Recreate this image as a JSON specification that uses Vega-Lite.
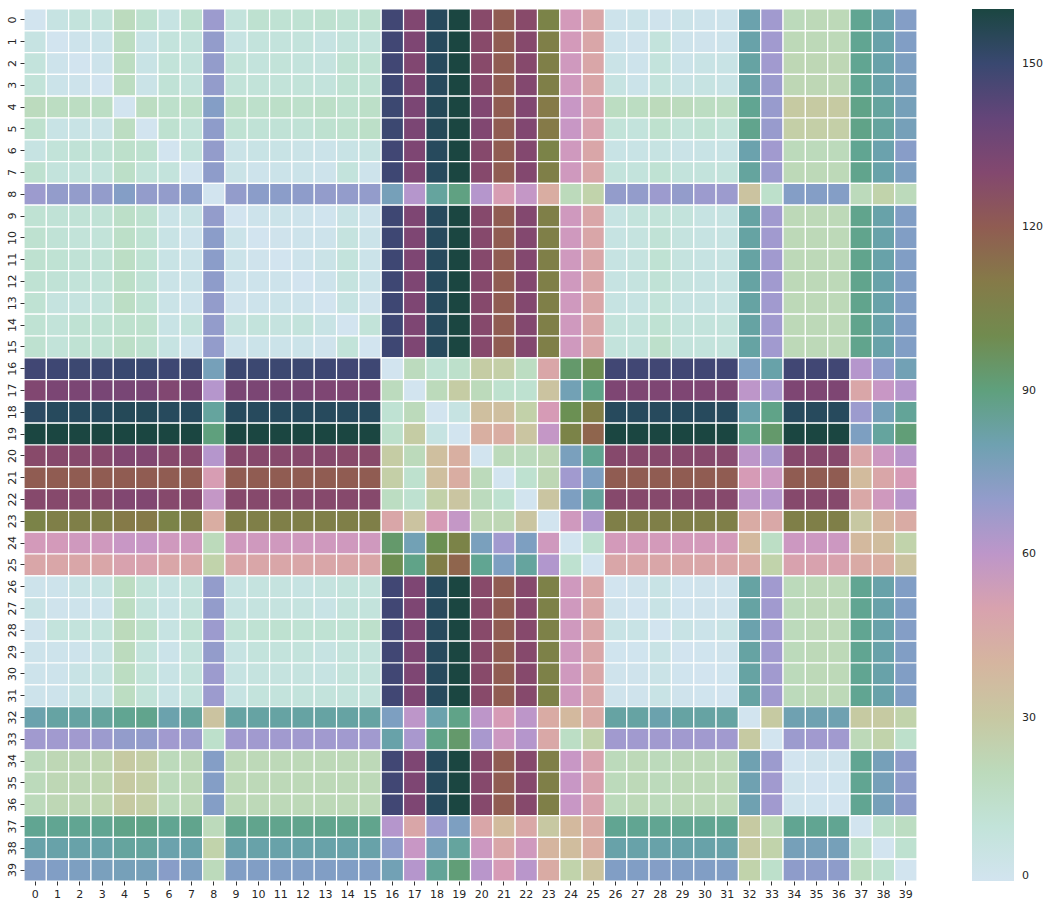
{
"$schema": "https://vega.github.io/schema/vega-lite/v6.json",
"width": 893,
"height": 872,
"padding": {"left": 5, "top": 8, "right": 5, "bottom": 5},
"background": "white",
"config": {"view": {"stroke": null}, "font": "DejaVu Sans"},
"data": {"values": [
{"r":0,"c":0,"v":0},{"r":0,"c":1,"v":7},{"r":0,"c":2,"v":9},{"r":0,"c":3,"v":9},{"r":0,"c":4,"v":19},{"r":0,"c":5,"v":13},{"r":0,"c":6,"v":7},{"r":0,"c":7,"v":13},{"r":0,"c":8,"v":68},{"r":0,"c":9,"v":9},{"r":0,"c":10,"v":13},{"r":0,"c":11,"v":12},{"r":0,"c":12,"v":12},{"r":0,"c":13,"v":13},{"r":0,"c":14,"v":12},{"r":0,"c":15,"v":13},{"r":0,"c":16,"v":147},{"r":0,"c":17,"v":131},{"r":0,"c":18,"v":154},{"r":0,"c":19,"v":160},{"r":0,"c":20,"v":128},{"r":0,"c":21,"v":120},{"r":0,"c":22,"v":128},{"r":0,"c":23,"v":105},{"r":0,"c":24,"v":54},{"r":0,"c":25,"v":48},{"r":0,"c":26,"v":3},{"r":0,"c":27,"v":4},{"r":0,"c":28,"v":2},{"r":0,"c":29,"v":4},{"r":0,"c":30,"v":3},{"r":0,"c":31,"v":3},{"r":0,"c":32,"v":81},{"r":0,"c":33,"v":67},{"r":0,"c":34,"v":20},{"r":0,"c":35,"v":21},{"r":0,"c":36,"v":21},{"r":0,"c":37,"v":86},{"r":0,"c":38,"v":82},{"r":0,"c":39,"v":74},
{"r":1,"c":0,"v":7},{"r":1,"c":1,"v":0},{"r":1,"c":2,"v":3},{"r":1,"c":3,"v":4},{"r":1,"c":4,"v":18},{"r":1,"c":5,"v":6},{"r":1,"c":6,"v":9},{"r":1,"c":7,"v":9},{"r":1,"c":8,"v":70},{"r":1,"c":9,"v":7},{"r":1,"c":10,"v":9},{"r":1,"c":11,"v":9},{"r":1,"c":12,"v":9},{"r":1,"c":13,"v":7},{"r":1,"c":14,"v":9},{"r":1,"c":15,"v":9},{"r":1,"c":16,"v":147},{"r":1,"c":17,"v":132},{"r":1,"c":18,"v":154},{"r":1,"c":19,"v":160},{"r":1,"c":20,"v":128},{"r":1,"c":21,"v":120},{"r":1,"c":22,"v":129},{"r":1,"c":23,"v":107},{"r":1,"c":24,"v":54},{"r":1,"c":25,"v":48},{"r":1,"c":26,"v":3},{"r":1,"c":27,"v":2},{"r":1,"c":28,"v":9},{"r":1,"c":29,"v":3},{"r":1,"c":30,"v":2},{"r":1,"c":31,"v":3},{"r":1,"c":32,"v":82},{"r":1,"c":33,"v":67},{"r":1,"c":34,"v":21},{"r":1,"c":35,"v":21},{"r":1,"c":36,"v":21},{"r":1,"c":37,"v":86},{"r":1,"c":38,"v":82},{"r":1,"c":39,"v":75},
{"r":2,"c":0,"v":9},{"r":2,"c":1,"v":3},{"r":2,"c":2,"v":0},{"r":2,"c":3,"v":3},{"r":2,"c":4,"v":18},{"r":2,"c":5,"v":6},{"r":2,"c":6,"v":10},{"r":2,"c":7,"v":9},{"r":2,"c":8,"v":70},{"r":2,"c":9,"v":10},{"r":2,"c":10,"v":9},{"r":2,"c":11,"v":10},{"r":2,"c":12,"v":9},{"r":2,"c":13,"v":8},{"r":2,"c":14,"v":12},{"r":2,"c":15,"v":12},{"r":2,"c":16,"v":147},{"r":2,"c":17,"v":131},{"r":2,"c":18,"v":154},{"r":2,"c":19,"v":160},{"r":2,"c":20,"v":128},{"r":2,"c":21,"v":120},{"r":2,"c":22,"v":129},{"r":2,"c":23,"v":107},{"r":2,"c":24,"v":55},{"r":2,"c":25,"v":48},{"r":2,"c":26,"v":5},{"r":2,"c":27,"v":3},{"r":2,"c":28,"v":9},{"r":2,"c":29,"v":4},{"r":2,"c":30,"v":6},{"r":2,"c":31,"v":6},{"r":2,"c":32,"v":83},{"r":2,"c":33,"v":67},{"r":2,"c":34,"v":22},{"r":2,"c":35,"v":22},{"r":2,"c":36,"v":22},{"r":2,"c":37,"v":86},{"r":2,"c":38,"v":82},{"r":2,"c":39,"v":76},
{"r":3,"c":0,"v":10},{"r":3,"c":1,"v":4},{"r":3,"c":2,"v":3},{"r":3,"c":3,"v":0},{"r":3,"c":4,"v":18},{"r":3,"c":5,"v":5},{"r":3,"c":6,"v":11},{"r":3,"c":7,"v":9},{"r":3,"c":8,"v":70},{"r":3,"c":9,"v":10},{"r":3,"c":10,"v":10},{"r":3,"c":11,"v":10},{"r":3,"c":12,"v":10},{"r":3,"c":13,"v":9},{"r":3,"c":14,"v":12},{"r":3,"c":15,"v":12},{"r":3,"c":16,"v":148},{"r":3,"c":17,"v":132},{"r":3,"c":18,"v":154},{"r":3,"c":19,"v":160},{"r":3,"c":20,"v":129},{"r":3,"c":21,"v":120},{"r":3,"c":22,"v":130},{"r":3,"c":23,"v":107},{"r":3,"c":24,"v":55},{"r":3,"c":25,"v":48},{"r":3,"c":26,"v":7},{"r":3,"c":27,"v":4},{"r":3,"c":28,"v":9},{"r":3,"c":29,"v":6},{"r":3,"c":30,"v":7},{"r":3,"c":31,"v":6},{"r":3,"c":32,"v":83},{"r":3,"c":33,"v":68},{"r":3,"c":34,"v":22},{"r":3,"c":35,"v":22},{"r":3,"c":36,"v":22},{"r":3,"c":37,"v":86},{"r":3,"c":38,"v":82},{"r":3,"c":39,"v":77},
{"r":4,"c":0,"v":19},{"r":4,"c":1,"v":18},{"r":4,"c":2,"v":18},{"r":4,"c":3,"v":17},{"r":4,"c":4,"v":0},{"r":4,"c":5,"v":18},{"r":4,"c":6,"v":15},{"r":4,"c":7,"v":16},{"r":4,"c":8,"v":74},{"r":4,"c":9,"v":16},{"r":4,"c":10,"v":15},{"r":4,"c":11,"v":16},{"r":4,"c":12,"v":15},{"r":4,"c":13,"v":16},{"r":4,"c":14,"v":14},{"r":4,"c":15,"v":16},{"r":4,"c":16,"v":149},{"r":4,"c":17,"v":133},{"r":4,"c":18,"v":155},{"r":4,"c":19,"v":160},{"r":4,"c":20,"v":131},{"r":4,"c":21,"v":120},{"r":4,"c":22,"v":131},{"r":4,"c":23,"v":110},{"r":4,"c":24,"v":57},{"r":4,"c":25,"v":50},{"r":4,"c":26,"v":18},{"r":4,"c":27,"v":18},{"r":4,"c":28,"v":20},{"r":4,"c":29,"v":19},{"r":4,"c":30,"v":18},{"r":4,"c":31,"v":18},{"r":4,"c":32,"v":86},{"r":4,"c":33,"v":69},{"r":4,"c":34,"v":29},{"r":4,"c":35,"v":29},{"r":4,"c":36,"v":29},{"r":4,"c":37,"v":88},{"r":4,"c":38,"v":84},{"r":4,"c":39,"v":78},
{"r":5,"c":0,"v":14},{"r":5,"c":1,"v":6},{"r":5,"c":2,"v":6},{"r":5,"c":3,"v":5},{"r":5,"c":4,"v":18},{"r":5,"c":5,"v":0},{"r":5,"c":6,"v":13},{"r":5,"c":7,"v":10},{"r":5,"c":8,"v":71},{"r":5,"c":9,"v":12},{"r":5,"c":10,"v":11},{"r":5,"c":11,"v":11},{"r":5,"c":12,"v":11},{"r":5,"c":13,"v":13},{"r":5,"c":14,"v":14},{"r":5,"c":15,"v":16},{"r":5,"c":16,"v":149},{"r":5,"c":17,"v":133},{"r":5,"c":18,"v":155},{"r":5,"c":19,"v":160},{"r":5,"c":20,"v":131},{"r":5,"c":21,"v":120},{"r":5,"c":22,"v":131},{"r":5,"c":23,"v":110},{"r":5,"c":24,"v":57},{"r":5,"c":25,"v":50},{"r":5,"c":26,"v":10},{"r":5,"c":27,"v":9},{"r":5,"c":28,"v":14},{"r":5,"c":29,"v":10},{"r":5,"c":30,"v":12},{"r":5,"c":31,"v":10},{"r":5,"c":32,"v":87},{"r":5,"c":33,"v":69},{"r":5,"c":34,"v":27},{"r":5,"c":35,"v":27},{"r":5,"c":36,"v":27},{"r":5,"c":37,"v":88},{"r":5,"c":38,"v":84},{"r":5,"c":39,"v":78},
{"r":6,"c":0,"v":7},{"r":6,"c":1,"v":10},{"r":6,"c":2,"v":11},{"r":6,"c":3,"v":11},{"r":6,"c":4,"v":15},{"r":6,"c":5,"v":13},{"r":6,"c":6,"v":0},{"r":6,"c":7,"v":9},{"r":6,"c":8,"v":70},{"r":6,"c":9,"v":5},{"r":6,"c":10,"v":6},{"r":6,"c":11,"v":6},{"r":6,"c":12,"v":5},{"r":6,"c":13,"v":4},{"r":6,"c":14,"v":6},{"r":6,"c":15,"v":7},{"r":6,"c":16,"v":147},{"r":6,"c":17,"v":132},{"r":6,"c":18,"v":154},{"r":6,"c":19,"v":160},{"r":6,"c":20,"v":129},{"r":6,"c":21,"v":120},{"r":6,"c":22,"v":130},{"r":6,"c":23,"v":105},{"r":6,"c":24,"v":55},{"r":6,"c":25,"v":48},{"r":6,"c":26,"v":6},{"r":6,"c":27,"v":6},{"r":6,"c":28,"v":7},{"r":6,"c":29,"v":5},{"r":6,"c":30,"v":6},{"r":6,"c":31,"v":6},{"r":6,"c":32,"v":81},{"r":6,"c":33,"v":67},{"r":6,"c":34,"v":20},{"r":6,"c":35,"v":20},{"r":6,"c":36,"v":20},{"r":6,"c":37,"v":86},{"r":6,"c":38,"v":81},{"r":6,"c":39,"v":73},
{"r":7,"c":0,"v":13},{"r":7,"c":1,"v":9},{"r":7,"c":2,"v":9},{"r":7,"c":3,"v":9},{"r":7,"c":4,"v":16},{"r":7,"c":5,"v":10},{"r":7,"c":6,"v":9},{"r":7,"c":7,"v":0},{"r":7,"c":8,"v":71},{"r":7,"c":9,"v":5},{"r":7,"c":10,"v":3},{"r":7,"c":11,"v":4},{"r":7,"c":12,"v":4},{"r":7,"c":13,"v":3},{"r":7,"c":14,"v":9},{"r":7,"c":15,"v":3},{"r":7,"c":16,"v":148},{"r":7,"c":17,"v":132},{"r":7,"c":18,"v":154},{"r":7,"c":19,"v":160},{"r":7,"c":20,"v":129},{"r":7,"c":21,"v":120},{"r":7,"c":22,"v":130},{"r":7,"c":23,"v":107},{"r":7,"c":24,"v":55},{"r":7,"c":25,"v":48},{"r":7,"c":26,"v":9},{"r":7,"c":27,"v":9},{"r":7,"c":28,"v":12},{"r":7,"c":29,"v":9},{"r":7,"c":30,"v":9},{"r":7,"c":31,"v":9},{"r":7,"c":32,"v":84},{"r":7,"c":33,"v":68},{"r":7,"c":34,"v":21},{"r":7,"c":35,"v":21},{"r":7,"c":36,"v":21},{"r":7,"c":37,"v":87},{"r":7,"c":38,"v":82},{"r":7,"c":39,"v":76},
{"r":8,"c":0,"v":68},{"r":8,"c":1,"v":70},{"r":8,"c":2,"v":70},{"r":8,"c":3,"v":70},{"r":8,"c":4,"v":74},{"r":8,"c":5,"v":70},{"r":8,"c":6,"v":70},{"r":8,"c":7,"v":72},{"r":8,"c":8,"v":0},{"r":8,"c":9,"v":70},{"r":8,"c":10,"v":72},{"r":8,"c":11,"v":72},{"r":8,"c":12,"v":71},{"r":8,"c":13,"v":70},{"r":8,"c":14,"v":70},{"r":8,"c":15,"v":70},{"r":8,"c":16,"v":78},{"r":8,"c":17,"v":62},{"r":8,"c":18,"v":84},{"r":8,"c":19,"v":89},{"r":8,"c":20,"v":62},{"r":8,"c":21,"v":52},{"r":8,"c":22,"v":58},{"r":8,"c":23,"v":44},{"r":8,"c":24,"v":20},{"r":8,"c":25,"v":25},{"r":8,"c":26,"v":70},{"r":8,"c":27,"v":70},{"r":8,"c":28,"v":68},{"r":8,"c":29,"v":70},{"r":8,"c":30,"v":68},{"r":8,"c":31,"v":68},{"r":8,"c":32,"v":33},{"r":8,"c":33,"v":15},{"r":8,"c":34,"v":74},{"r":8,"c":35,"v":74},{"r":8,"c":36,"v":74},{"r":8,"c":37,"v":20},{"r":8,"c":38,"v":25},{"r":8,"c":39,"v":20},
{"r":9,"c":0,"v":12},{"r":9,"c":1,"v":11},{"r":9,"c":2,"v":11},{"r":9,"c":3,"v":11},{"r":9,"c":4,"v":16},{"r":9,"c":5,"v":13},{"r":9,"c":6,"v":5},{"r":9,"c":7,"v":6},{"r":9,"c":8,"v":70},{"r":9,"c":9,"v":0},{"r":9,"c":10,"v":3},{"r":9,"c":11,"v":4},{"r":9,"c":12,"v":3},{"r":9,"c":13,"v":1},{"r":9,"c":14,"v":6},{"r":9,"c":15,"v":3},{"r":9,"c":16,"v":148},{"r":9,"c":17,"v":132},{"r":9,"c":18,"v":154},{"r":9,"c":19,"v":160},{"r":9,"c":20,"v":129},{"r":9,"c":21,"v":120},{"r":9,"c":22,"v":130},{"r":9,"c":23,"v":107},{"r":9,"c":24,"v":55},{"r":9,"c":25,"v":48},{"r":9,"c":26,"v":7},{"r":9,"c":27,"v":9},{"r":9,"c":28,"v":10},{"r":9,"c":29,"v":9},{"r":9,"c":30,"v":7},{"r":9,"c":31,"v":7},{"r":9,"c":32,"v":83},{"r":9,"c":33,"v":67},{"r":9,"c":34,"v":21},{"r":9,"c":35,"v":21},{"r":9,"c":36,"v":21},{"r":9,"c":37,"v":87},{"r":9,"c":38,"v":82},{"r":9,"c":39,"v":75},
{"r":10,"c":0,"v":13},{"r":10,"c":1,"v":11},{"r":10,"c":2,"v":10},{"r":10,"c":3,"v":10},{"r":10,"c":4,"v":16},{"r":10,"c":5,"v":12},{"r":10,"c":6,"v":6},{"r":10,"c":7,"v":3},{"r":10,"c":8,"v":72},{"r":10,"c":9,"v":4},{"r":10,"c":10,"v":0},{"r":10,"c":11,"v":2},{"r":10,"c":12,"v":3},{"r":10,"c":13,"v":3},{"r":10,"c":14,"v":8},{"r":10,"c":15,"v":4},{"r":10,"c":16,"v":148},{"r":10,"c":17,"v":132},{"r":10,"c":18,"v":154},{"r":10,"c":19,"v":160},{"r":10,"c":20,"v":129},{"r":10,"c":21,"v":120},{"r":10,"c":22,"v":130},{"r":10,"c":23,"v":107},{"r":10,"c":24,"v":55},{"r":10,"c":25,"v":48},{"r":10,"c":26,"v":7},{"r":10,"c":27,"v":8},{"r":10,"c":28,"v":11},{"r":10,"c":29,"v":8},{"r":10,"c":30,"v":7},{"r":10,"c":31,"v":7},{"r":10,"c":32,"v":83},{"r":10,"c":33,"v":67},{"r":10,"c":34,"v":21},{"r":10,"c":35,"v":21},{"r":10,"c":36,"v":21},{"r":10,"c":37,"v":87},{"r":10,"c":38,"v":82},{"r":10,"c":39,"v":75},
{"r":11,"c":0,"v":13},{"r":11,"c":1,"v":12},{"r":11,"c":2,"v":11},{"r":11,"c":3,"v":11},{"r":11,"c":4,"v":17},{"r":11,"c":5,"v":12},{"r":11,"c":6,"v":6},{"r":11,"c":7,"v":4},{"r":11,"c":8,"v":72},{"r":11,"c":9,"v":4},{"r":11,"c":10,"v":2},{"r":11,"c":11,"v":0},{"r":11,"c":12,"v":3},{"r":11,"c":13,"v":5},{"r":11,"c":14,"v":9},{"r":11,"c":15,"v":4},{"r":11,"c":16,"v":148},{"r":11,"c":17,"v":132},{"r":11,"c":18,"v":154},{"r":11,"c":19,"v":160},{"r":11,"c":20,"v":129},{"r":11,"c":21,"v":120},{"r":11,"c":22,"v":130},{"r":11,"c":23,"v":107},{"r":11,"c":24,"v":55},{"r":11,"c":25,"v":48},{"r":11,"c":26,"v":7},{"r":11,"c":27,"v":8},{"r":11,"c":28,"v":12},{"r":11,"c":29,"v":8},{"r":11,"c":30,"v":7},{"r":11,"c":31,"v":7},{"r":11,"c":32,"v":83},{"r":11,"c":33,"v":67},{"r":11,"c":34,"v":21},{"r":11,"c":35,"v":21},{"r":11,"c":36,"v":21},{"r":11,"c":37,"v":87},{"r":11,"c":38,"v":82},{"r":11,"c":39,"v":75},
{"r":12,"c":0,"v":12},{"r":12,"c":1,"v":11},{"r":12,"c":2,"v":10},{"r":12,"c":3,"v":10},{"r":12,"c":4,"v":16},{"r":12,"c":5,"v":11},{"r":12,"c":6,"v":5},{"r":12,"c":7,"v":4},{"r":12,"c":8,"v":71},{"r":12,"c":9,"v":3},{"r":12,"c":10,"v":3},{"r":12,"c":11,"v":3},{"r":12,"c":12,"v":0},{"r":12,"c":13,"v":3},{"r":12,"c":14,"v":8},{"r":12,"c":15,"v":4},{"r":12,"c":16,"v":148},{"r":12,"c":17,"v":132},{"r":12,"c":18,"v":154},{"r":12,"c":19,"v":160},{"r":12,"c":20,"v":129},{"r":12,"c":21,"v":120},{"r":12,"c":22,"v":130},{"r":12,"c":23,"v":107},{"r":12,"c":24,"v":55},{"r":12,"c":25,"v":48},{"r":12,"c":26,"v":7},{"r":12,"c":27,"v":8},{"r":12,"c":28,"v":11},{"r":12,"c":29,"v":8},{"r":12,"c":30,"v":7},{"r":12,"c":31,"v":7},{"r":12,"c":32,"v":83},{"r":12,"c":33,"v":67},{"r":12,"c":34,"v":21},{"r":12,"c":35,"v":21},{"r":12,"c":36,"v":21},{"r":12,"c":37,"v":87},{"r":12,"c":38,"v":82},{"r":12,"c":39,"v":75},
{"r":13,"c":0,"v":12},{"r":13,"c":1,"v":8},{"r":13,"c":2,"v":8},{"r":13,"c":3,"v":9},{"r":13,"c":4,"v":17},{"r":13,"c":5,"v":12},{"r":13,"c":6,"v":5},{"r":13,"c":7,"v":3},{"r":13,"c":8,"v":70},{"r":13,"c":9,"v":2},{"r":13,"c":10,"v":3},{"r":13,"c":11,"v":4},{"r":13,"c":12,"v":3},{"r":13,"c":13,"v":0},{"r":13,"c":14,"v":7},{"r":13,"c":15,"v":2},{"r":13,"c":16,"v":148},{"r":13,"c":17,"v":132},{"r":13,"c":18,"v":154},{"r":13,"c":19,"v":160},{"r":13,"c":20,"v":129},{"r":13,"c":21,"v":120},{"r":13,"c":22,"v":130},{"r":13,"c":23,"v":107},{"r":13,"c":24,"v":55},{"r":13,"c":25,"v":48},{"r":13,"c":26,"v":7},{"r":13,"c":27,"v":7},{"r":13,"c":28,"v":10},{"r":13,"c":29,"v":7},{"r":13,"c":30,"v":7},{"r":13,"c":31,"v":7},{"r":13,"c":32,"v":83},{"r":13,"c":33,"v":67},{"r":13,"c":34,"v":21},{"r":13,"c":35,"v":21},{"r":13,"c":36,"v":21},{"r":13,"c":37,"v":87},{"r":13,"c":38,"v":82},{"r":13,"c":39,"v":75},
{"r":14,"c":0,"v":12},{"r":14,"c":1,"v":10},{"r":14,"c":2,"v":12},{"r":14,"c":3,"v":12},{"r":14,"c":4,"v":14},{"r":14,"c":5,"v":14},{"r":14,"c":6,"v":6},{"r":14,"c":7,"v":9},{"r":14,"c":8,"v":70},{"r":14,"c":9,"v":8},{"r":14,"c":10,"v":9},{"r":14,"c":11,"v":8},{"r":14,"c":12,"v":9},{"r":14,"c":13,"v":6},{"r":14,"c":14,"v":0},{"r":14,"c":15,"v":10},{"r":14,"c":16,"v":148},{"r":14,"c":17,"v":132},{"r":14,"c":18,"v":154},{"r":14,"c":19,"v":160},{"r":14,"c":20,"v":129},{"r":14,"c":21,"v":120},{"r":14,"c":22,"v":130},{"r":14,"c":23,"v":107},{"r":14,"c":24,"v":55},{"r":14,"c":25,"v":48},{"r":14,"c":26,"v":9},{"r":14,"c":27,"v":9},{"r":14,"c":28,"v":12},{"r":14,"c":29,"v":9},{"r":14,"c":30,"v":9},{"r":14,"c":31,"v":9},{"r":14,"c":32,"v":83},{"r":14,"c":33,"v":67},{"r":14,"c":34,"v":21},{"r":14,"c":35,"v":21},{"r":14,"c":36,"v":21},{"r":14,"c":37,"v":87},{"r":14,"c":38,"v":82},{"r":14,"c":39,"v":75},
{"r":15,"c":0,"v":13},{"r":15,"c":1,"v":10},{"r":15,"c":2,"v":12},{"r":15,"c":3,"v":12},{"r":15,"c":4,"v":16},{"r":15,"c":5,"v":13},{"r":15,"c":6,"v":7},{"r":15,"c":7,"v":3},{"r":15,"c":8,"v":70},{"r":15,"c":9,"v":3},{"r":15,"c":10,"v":4},{"r":15,"c":11,"v":4},{"r":15,"c":12,"v":4},{"r":15,"c":13,"v":2},{"r":15,"c":14,"v":10},{"r":15,"c":15,"v":0},{"r":15,"c":16,"v":148},{"r":15,"c":17,"v":132},{"r":15,"c":18,"v":154},{"r":15,"c":19,"v":160},{"r":15,"c":20,"v":129},{"r":15,"c":21,"v":120},{"r":15,"c":22,"v":130},{"r":15,"c":23,"v":107},{"r":15,"c":24,"v":55},{"r":15,"c":25,"v":48},{"r":15,"c":26,"v":9},{"r":15,"c":27,"v":9},{"r":15,"c":28,"v":15},{"r":15,"c":29,"v":9},{"r":15,"c":30,"v":9},{"r":15,"c":31,"v":9},{"r":15,"c":32,"v":83},{"r":15,"c":33,"v":67},{"r":15,"c":34,"v":21},{"r":15,"c":35,"v":21},{"r":15,"c":36,"v":21},{"r":15,"c":37,"v":87},{"r":15,"c":38,"v":82},{"r":15,"c":39,"v":75},
{"r":16,"c":0,"v":147},{"r":16,"c":1,"v":148},{"r":16,"c":2,"v":149},{"r":16,"c":3,"v":149},{"r":16,"c":4,"v":150},{"r":16,"c":5,"v":150},{"r":16,"c":6,"v":148},{"r":16,"c":7,"v":149},{"r":16,"c":8,"v":78},{"r":16,"c":9,"v":149},{"r":16,"c":10,"v":149},{"r":16,"c":11,"v":149},{"r":16,"c":12,"v":149},{"r":16,"c":13,"v":148},{"r":16,"c":14,"v":147},{"r":16,"c":15,"v":148},{"r":16,"c":16,"v":0},{"r":16,"c":17,"v":19},{"r":16,"c":18,"v":12},{"r":16,"c":19,"v":15},{"r":16,"c":20,"v":28},{"r":16,"c":21,"v":27},{"r":16,"c":22,"v":18},{"r":16,"c":23,"v":48},{"r":16,"c":24,"v":93},{"r":16,"c":25,"v":98},{"r":16,"c":26,"v":147},{"r":16,"c":27,"v":147},{"r":16,"c":28,"v":147},{"r":16,"c":29,"v":147},{"r":16,"c":30,"v":147},{"r":16,"c":31,"v":147},{"r":16,"c":32,"v":76},{"r":16,"c":33,"v":82},{"r":16,"c":34,"v":147},{"r":16,"c":35,"v":147},{"r":16,"c":36,"v":147},{"r":16,"c":37,"v":62},{"r":16,"c":38,"v":71},{"r":16,"c":39,"v":79},
{"r":17,"c":0,"v":131},{"r":17,"c":1,"v":133},{"r":17,"c":2,"v":133},{"r":17,"c":3,"v":134},{"r":17,"c":4,"v":134},{"r":17,"c":5,"v":134},{"r":17,"c":6,"v":131},{"r":17,"c":7,"v":133},{"r":17,"c":8,"v":62},{"r":17,"c":9,"v":133},{"r":17,"c":10,"v":133},{"r":17,"c":11,"v":133},{"r":17,"c":12,"v":133},{"r":17,"c":13,"v":132},{"r":17,"c":14,"v":132},{"r":17,"c":15,"v":132},{"r":17,"c":16,"v":19},{"r":17,"c":17,"v":0},{"r":17,"c":18,"v":20},{"r":17,"c":19,"v":28},{"r":17,"c":20,"v":20},{"r":17,"c":21,"v":14},{"r":17,"c":22,"v":13},{"r":17,"c":23,"v":33},{"r":17,"c":24,"v":79},{"r":17,"c":25,"v":88},{"r":17,"c":26,"v":132},{"r":17,"c":27,"v":132},{"r":17,"c":28,"v":132},{"r":17,"c":29,"v":132},{"r":17,"c":30,"v":132},{"r":17,"c":31,"v":132},{"r":17,"c":32,"v":60},{"r":17,"c":33,"v":65},{"r":17,"c":34,"v":132},{"r":17,"c":35,"v":132},{"r":17,"c":36,"v":132},{"r":17,"c":37,"v":48},{"r":17,"c":38,"v":57},{"r":17,"c":39,"v":62},
{"r":18,"c":0,"v":153},{"r":18,"c":1,"v":154},{"r":18,"c":2,"v":154},{"r":18,"c":3,"v":154},{"r":18,"c":4,"v":155},{"r":18,"c":5,"v":155},{"r":18,"c":6,"v":154},{"r":18,"c":7,"v":154},{"r":18,"c":8,"v":84},{"r":18,"c":9,"v":154},{"r":18,"c":10,"v":154},{"r":18,"c":11,"v":154},{"r":18,"c":12,"v":154},{"r":18,"c":13,"v":154},{"r":18,"c":14,"v":154},{"r":18,"c":15,"v":154},{"r":18,"c":16,"v":12},{"r":18,"c":17,"v":20},{"r":18,"c":18,"v":0},{"r":18,"c":19,"v":7},{"r":18,"c":20,"v":35},{"r":18,"c":21,"v":35},{"r":18,"c":22,"v":26},{"r":18,"c":23,"v":53},{"r":18,"c":24,"v":97},{"r":18,"c":25,"v":108},{"r":18,"c":26,"v":154},{"r":18,"c":27,"v":154},{"r":18,"c":28,"v":154},{"r":18,"c":29,"v":154},{"r":18,"c":30,"v":154},{"r":18,"c":31,"v":154},{"r":18,"c":32,"v":81},{"r":18,"c":33,"v":88},{"r":18,"c":34,"v":154},{"r":18,"c":35,"v":154},{"r":18,"c":36,"v":154},{"r":18,"c":37,"v":68},{"r":18,"c":38,"v":78},{"r":18,"c":39,"v":85},
{"r":19,"c":0,"v":160},{"r":19,"c":1,"v":160},{"r":19,"c":2,"v":160},{"r":19,"c":3,"v":160},{"r":19,"c":4,"v":160},{"r":19,"c":5,"v":160},{"r":19,"c":6,"v":160},{"r":19,"c":7,"v":160},{"r":19,"c":8,"v":90},{"r":19,"c":9,"v":160},{"r":19,"c":10,"v":160},{"r":19,"c":11,"v":160},{"r":19,"c":12,"v":160},{"r":19,"c":13,"v":160},{"r":19,"c":14,"v":160},{"r":19,"c":15,"v":160},{"r":19,"c":16,"v":15},{"r":19,"c":17,"v":28},{"r":19,"c":18,"v":7},{"r":19,"c":19,"v":0},{"r":19,"c":20,"v":43},{"r":19,"c":21,"v":44},{"r":19,"c":22,"v":32},{"r":19,"c":23,"v":58},{"r":19,"c":24,"v":105},{"r":19,"c":25,"v":117},{"r":19,"c":26,"v":160},{"r":19,"c":27,"v":160},{"r":19,"c":28,"v":160},{"r":19,"c":29,"v":160},{"r":19,"c":30,"v":160},{"r":19,"c":31,"v":160},{"r":19,"c":32,"v":88},{"r":19,"c":33,"v":93},{"r":19,"c":34,"v":160},{"r":19,"c":35,"v":160},{"r":19,"c":36,"v":160},{"r":19,"c":37,"v":76},{"r":19,"c":38,"v":84},{"r":19,"c":39,"v":91},
{"r":20,"c":0,"v":128},{"r":20,"c":1,"v":129},{"r":20,"c":2,"v":129},{"r":20,"c":3,"v":129},{"r":20,"c":4,"v":131},{"r":20,"c":5,"v":131},{"r":20,"c":6,"v":129},{"r":20,"c":7,"v":129},{"r":20,"c":8,"v":62},{"r":20,"c":9,"v":129},{"r":20,"c":10,"v":129},{"r":20,"c":11,"v":129},{"r":20,"c":12,"v":129},{"r":20,"c":13,"v":129},{"r":20,"c":14,"v":128},{"r":20,"c":15,"v":128},{"r":20,"c":16,"v":28},{"r":20,"c":17,"v":20},{"r":20,"c":18,"v":35},{"r":20,"c":19,"v":43},{"r":20,"c":20,"v":0},{"r":20,"c":21,"v":20},{"r":20,"c":22,"v":19},{"r":20,"c":23,"v":22},{"r":20,"c":24,"v":77},{"r":20,"c":25,"v":86},{"r":20,"c":26,"v":129},{"r":20,"c":27,"v":129},{"r":20,"c":28,"v":129},{"r":20,"c":29,"v":129},{"r":20,"c":30,"v":129},{"r":20,"c":31,"v":129},{"r":20,"c":32,"v":60},{"r":20,"c":33,"v":65},{"r":20,"c":34,"v":129},{"r":20,"c":35,"v":129},{"r":20,"c":36,"v":129},{"r":20,"c":37,"v":48},{"r":20,"c":38,"v":56},{"r":20,"c":39,"v":61},
{"r":21,"c":0,"v":120},{"r":21,"c":1,"v":120},{"r":21,"c":2,"v":120},{"r":21,"c":3,"v":120},{"r":21,"c":4,"v":120},{"r":21,"c":5,"v":120},{"r":21,"c":6,"v":120},{"r":21,"c":7,"v":120},{"r":21,"c":8,"v":52},{"r":21,"c":9,"v":120},{"r":21,"c":10,"v":120},{"r":21,"c":11,"v":120},{"r":21,"c":12,"v":120},{"r":21,"c":13,"v":120},{"r":21,"c":14,"v":120},{"r":21,"c":15,"v":120},{"r":21,"c":16,"v":27},{"r":21,"c":17,"v":14},{"r":21,"c":18,"v":35},{"r":21,"c":19,"v":44},{"r":21,"c":20,"v":20},{"r":21,"c":21,"v":0},{"r":21,"c":22,"v":13},{"r":21,"c":23,"v":22},{"r":21,"c":24,"v":67},{"r":21,"c":25,"v":76},{"r":21,"c":26,"v":120},{"r":21,"c":27,"v":120},{"r":21,"c":28,"v":120},{"r":21,"c":29,"v":120},{"r":21,"c":30,"v":120},{"r":21,"c":31,"v":120},{"r":21,"c":32,"v":53},{"r":21,"c":33,"v":56},{"r":21,"c":34,"v":120},{"r":21,"c":35,"v":120},{"r":21,"c":36,"v":120},{"r":21,"c":37,"v":37},{"r":21,"c":38,"v":48},{"r":21,"c":39,"v":53},
{"r":22,"c":0,"v":129},{"r":22,"c":1,"v":129},{"r":22,"c":2,"v":129},{"r":22,"c":3,"v":129},{"r":22,"c":4,"v":131},{"r":22,"c":5,"v":131},{"r":22,"c":6,"v":129},{"r":22,"c":7,"v":129},{"r":22,"c":8,"v":58},{"r":22,"c":9,"v":129},{"r":22,"c":10,"v":129},{"r":22,"c":11,"v":129},{"r":22,"c":12,"v":129},{"r":22,"c":13,"v":129},{"r":22,"c":14,"v":129},{"r":22,"c":15,"v":129},{"r":22,"c":16,"v":18},{"r":22,"c":17,"v":13},{"r":22,"c":18,"v":26},{"r":22,"c":19,"v":32},{"r":22,"c":20,"v":19},{"r":22,"c":21,"v":13},{"r":22,"c":22,"v":0},{"r":22,"c":23,"v":32},{"r":22,"c":24,"v":76},{"r":22,"c":25,"v":84},{"r":22,"c":26,"v":129},{"r":22,"c":27,"v":129},{"r":22,"c":28,"v":129},{"r":22,"c":29,"v":129},{"r":22,"c":30,"v":129},{"r":22,"c":31,"v":129},{"r":22,"c":32,"v":60},{"r":22,"c":33,"v":62},{"r":22,"c":34,"v":129},{"r":22,"c":35,"v":129},{"r":22,"c":36,"v":129},{"r":22,"c":37,"v":47},{"r":22,"c":38,"v":55},{"r":22,"c":39,"v":61},
{"r":23,"c":0,"v":105},{"r":23,"c":1,"v":107},{"r":23,"c":2,"v":107},{"r":23,"c":3,"v":107},{"r":23,"c":4,"v":110},{"r":23,"c":5,"v":110},{"r":23,"c":6,"v":105},{"r":23,"c":7,"v":107},{"r":23,"c":8,"v":44},{"r":23,"c":9,"v":107},{"r":23,"c":10,"v":107},{"r":23,"c":11,"v":107},{"r":23,"c":12,"v":107},{"r":23,"c":13,"v":107},{"r":23,"c":14,"v":107},{"r":23,"c":15,"v":107},{"r":23,"c":16,"v":48},{"r":23,"c":17,"v":33},{"r":23,"c":18,"v":53},{"r":23,"c":19,"v":58},{"r":23,"c":20,"v":22},{"r":23,"c":21,"v":22},{"r":23,"c":22,"v":32},{"r":23,"c":23,"v":0},{"r":23,"c":24,"v":55},{"r":23,"c":25,"v":63},{"r":23,"c":26,"v":107},{"r":23,"c":27,"v":107},{"r":23,"c":28,"v":107},{"r":23,"c":29,"v":107},{"r":23,"c":30,"v":107},{"r":23,"c":31,"v":107},{"r":23,"c":32,"v":45},{"r":23,"c":33,"v":47},{"r":23,"c":34,"v":107},{"r":23,"c":35,"v":107},{"r":23,"c":36,"v":107},{"r":23,"c":37,"v":30},{"r":23,"c":38,"v":40},{"r":23,"c":39,"v":45},
{"r":24,"c":0,"v":54},{"r":24,"c":1,"v":54},{"r":24,"c":2,"v":55},{"r":24,"c":3,"v":55},{"r":24,"c":4,"v":57},{"r":24,"c":5,"v":57},{"r":24,"c":6,"v":55},{"r":24,"c":7,"v":55},{"r":24,"c":8,"v":20},{"r":24,"c":9,"v":55},{"r":24,"c":10,"v":55},{"r":24,"c":11,"v":55},{"r":24,"c":12,"v":55},{"r":24,"c":13,"v":55},{"r":24,"c":14,"v":55},{"r":24,"c":15,"v":55},{"r":24,"c":16,"v":93},{"r":24,"c":17,"v":79},{"r":24,"c":18,"v":97},{"r":24,"c":19,"v":105},{"r":24,"c":20,"v":77},{"r":24,"c":21,"v":67},{"r":24,"c":22,"v":76},{"r":24,"c":23,"v":55},{"r":24,"c":24,"v":0},{"r":24,"c":25,"v":13},{"r":24,"c":26,"v":54},{"r":24,"c":27,"v":54},{"r":24,"c":28,"v":54},{"r":24,"c":29,"v":54},{"r":24,"c":30,"v":54},{"r":24,"c":31,"v":54},{"r":24,"c":32,"v":38},{"r":24,"c":33,"v":17},{"r":24,"c":34,"v":56},{"r":24,"c":35,"v":56},{"r":24,"c":36,"v":56},{"r":24,"c":37,"v":38},{"r":24,"c":38,"v":36},{"r":24,"c":39,"v":25},
{"r":25,"c":0,"v":48},{"r":25,"c":1,"v":48},{"r":25,"c":2,"v":48},{"r":25,"c":3,"v":48},{"r":25,"c":4,"v":50},{"r":25,"c":5,"v":50},{"r":25,"c":6,"v":48},{"r":25,"c":7,"v":48},{"r":25,"c":8,"v":25},{"r":25,"c":9,"v":48},{"r":25,"c":10,"v":48},{"r":25,"c":11,"v":48},{"r":25,"c":12,"v":48},{"r":25,"c":13,"v":48},{"r":25,"c":14,"v":48},{"r":25,"c":15,"v":48},{"r":25,"c":16,"v":98},{"r":25,"c":17,"v":88},{"r":25,"c":18,"v":108},{"r":25,"c":19,"v":117},{"r":25,"c":20,"v":86},{"r":25,"c":21,"v":76},{"r":25,"c":22,"v":84},{"r":25,"c":23,"v":63},{"r":25,"c":24,"v":13},{"r":25,"c":25,"v":0},{"r":25,"c":26,"v":48},{"r":25,"c":27,"v":48},{"r":25,"c":28,"v":48},{"r":25,"c":29,"v":48},{"r":25,"c":30,"v":48},{"r":25,"c":31,"v":48},{"r":25,"c":32,"v":46},{"r":25,"c":33,"v":25},{"r":25,"c":34,"v":50},{"r":25,"c":35,"v":50},{"r":25,"c":36,"v":50},{"r":25,"c":37,"v":46},{"r":25,"c":38,"v":44},{"r":25,"c":39,"v":33},
{"r":26,"c":0,"v":3},{"r":26,"c":1,"v":3},{"r":26,"c":2,"v":6},{"r":26,"c":3,"v":7},{"r":26,"c":4,"v":18},{"r":26,"c":5,"v":10},{"r":26,"c":6,"v":7},{"r":26,"c":7,"v":9},{"r":26,"c":8,"v":70},{"r":26,"c":9,"v":7},{"r":26,"c":10,"v":8},{"r":26,"c":11,"v":8},{"r":26,"c":12,"v":7},{"r":26,"c":13,"v":8},{"r":26,"c":14,"v":9},{"r":26,"c":15,"v":9},{"r":26,"c":16,"v":147},{"r":26,"c":17,"v":132},{"r":26,"c":18,"v":154},{"r":26,"c":19,"v":160},{"r":26,"c":20,"v":128},{"r":26,"c":21,"v":120},{"r":26,"c":22,"v":129},{"r":26,"c":23,"v":106},{"r":26,"c":24,"v":55},{"r":26,"c":25,"v":48},{"r":26,"c":26,"v":0},{"r":26,"c":27,"v":2},{"r":26,"c":28,"v":6},{"r":26,"c":29,"v":1},{"r":26,"c":30,"v":2},{"r":26,"c":31,"v":2},{"r":26,"c":32,"v":83},{"r":26,"c":33,"v":67},{"r":26,"c":34,"v":20},{"r":26,"c":35,"v":21},{"r":26,"c":36,"v":21},{"r":26,"c":37,"v":86},{"r":26,"c":38,"v":82},{"r":26,"c":39,"v":75},
{"r":27,"c":0,"v":6},{"r":27,"c":1,"v":2},{"r":27,"c":2,"v":3},{"r":27,"c":3,"v":3},{"r":27,"c":4,"v":18},{"r":27,"c":5,"v":9},{"r":27,"c":6,"v":6},{"r":27,"c":7,"v":9},{"r":27,"c":8,"v":70},{"r":27,"c":9,"v":7},{"r":27,"c":10,"v":8},{"r":27,"c":11,"v":8},{"r":27,"c":12,"v":8},{"r":27,"c":13,"v":6},{"r":27,"c":14,"v":9},{"r":27,"c":15,"v":9},{"r":27,"c":16,"v":147},{"r":27,"c":17,"v":132},{"r":27,"c":18,"v":154},{"r":27,"c":19,"v":160},{"r":27,"c":20,"v":128},{"r":27,"c":21,"v":120},{"r":27,"c":22,"v":129},{"r":27,"c":23,"v":106},{"r":27,"c":24,"v":55},{"r":27,"c":25,"v":48},{"r":27,"c":26,"v":2},{"r":27,"c":27,"v":0},{"r":27,"c":28,"v":6},{"r":27,"c":29,"v":1},{"r":27,"c":30,"v":2},{"r":27,"c":31,"v":2},{"r":27,"c":32,"v":83},{"r":27,"c":33,"v":67},{"r":27,"c":34,"v":20},{"r":27,"c":35,"v":21},{"r":27,"c":36,"v":21},{"r":27,"c":37,"v":86},{"r":27,"c":38,"v":82},{"r":27,"c":39,"v":75},
{"r":28,"c":0,"v":2},{"r":28,"c":1,"v":9},{"r":28,"c":2,"v":9},{"r":28,"c":3,"v":9},{"r":28,"c":4,"v":20},{"r":28,"c":5,"v":15},{"r":28,"c":6,"v":7},{"r":28,"c":7,"v":12},{"r":28,"c":8,"v":68},{"r":28,"c":9,"v":11},{"r":28,"c":10,"v":12},{"r":28,"c":11,"v":13},{"r":28,"c":12,"v":12},{"r":28,"c":13,"v":12},{"r":28,"c":14,"v":12},{"r":28,"c":15,"v":15},{"r":28,"c":16,"v":147},{"r":28,"c":17,"v":132},{"r":28,"c":18,"v":154},{"r":28,"c":19,"v":160},{"r":28,"c":20,"v":128},{"r":28,"c":21,"v":120},{"r":28,"c":22,"v":129},{"r":28,"c":23,"v":106},{"r":28,"c":24,"v":55},{"r":28,"c":25,"v":48},{"r":28,"c":26,"v":6},{"r":28,"c":27,"v":6},{"r":28,"c":28,"v":0},{"r":28,"c":29,"v":6},{"r":28,"c":30,"v":4},{"r":28,"c":31,"v":6},{"r":28,"c":32,"v":81},{"r":28,"c":33,"v":67},{"r":28,"c":34,"v":20},{"r":28,"c":35,"v":21},{"r":28,"c":36,"v":21},{"r":28,"c":37,"v":86},{"r":28,"c":38,"v":82},{"r":28,"c":39,"v":74},
{"r":29,"c":0,"v":3},{"r":29,"c":1,"v":3},{"r":29,"c":2,"v":3},{"r":29,"c":3,"v":6},{"r":29,"c":4,"v":19},{"r":29,"c":5,"v":9},{"r":29,"c":6,"v":4},{"r":29,"c":7,"v":9},{"r":29,"c":8,"v":70},{"r":29,"c":9,"v":7},{"r":29,"c":10,"v":9},{"r":29,"c":11,"v":9},{"r":29,"c":12,"v":9},{"r":29,"c":13,"v":7},{"r":29,"c":14,"v":9},{"r":29,"c":15,"v":9},{"r":29,"c":16,"v":147},{"r":29,"c":17,"v":132},{"r":29,"c":18,"v":154},{"r":29,"c":19,"v":160},{"r":29,"c":20,"v":128},{"r":29,"c":21,"v":120},{"r":29,"c":22,"v":129},{"r":29,"c":23,"v":106},{"r":29,"c":24,"v":55},{"r":29,"c":25,"v":48},{"r":29,"c":26,"v":1},{"r":29,"c":27,"v":1},{"r":29,"c":28,"v":6},{"r":29,"c":29,"v":0},{"r":29,"c":30,"v":1},{"r":29,"c":31,"v":2},{"r":29,"c":32,"v":83},{"r":29,"c":33,"v":67},{"r":29,"c":34,"v":20},{"r":29,"c":35,"v":21},{"r":29,"c":36,"v":21},{"r":29,"c":37,"v":86},{"r":29,"c":38,"v":82},{"r":29,"c":39,"v":75},
{"r":30,"c":0,"v":3},{"r":30,"c":1,"v":3},{"r":30,"c":2,"v":6},{"r":30,"c":3,"v":7},{"r":30,"c":4,"v":18},{"r":30,"c":5,"v":10},{"r":30,"c":6,"v":6},{"r":30,"c":7,"v":9},{"r":30,"c":8,"v":68},{"r":30,"c":9,"v":7},{"r":30,"c":10,"v":8},{"r":30,"c":11,"v":8},{"r":30,"c":12,"v":8},{"r":30,"c":13,"v":7},{"r":30,"c":14,"v":9},{"r":30,"c":15,"v":9},{"r":30,"c":16,"v":147},{"r":30,"c":17,"v":132},{"r":30,"c":18,"v":154},{"r":30,"c":19,"v":160},{"r":30,"c":20,"v":128},{"r":30,"c":21,"v":120},{"r":30,"c":22,"v":129},{"r":30,"c":23,"v":106},{"r":30,"c":24,"v":55},{"r":30,"c":25,"v":48},{"r":30,"c":26,"v":2},{"r":30,"c":27,"v":2},{"r":30,"c":28,"v":5},{"r":30,"c":29,"v":1},{"r":30,"c":30,"v":0},{"r":30,"c":31,"v":1},{"r":30,"c":32,"v":83},{"r":30,"c":33,"v":67},{"r":30,"c":34,"v":20},{"r":30,"c":35,"v":21},{"r":30,"c":36,"v":21},{"r":30,"c":37,"v":86},{"r":30,"c":38,"v":82},{"r":30,"c":39,"v":75},
{"r":31,"c":0,"v":3},{"r":31,"c":1,"v":3},{"r":31,"c":2,"v":6},{"r":31,"c":3,"v":6},{"r":31,"c":4,"v":18},{"r":31,"c":5,"v":10},{"r":31,"c":6,"v":6},{"r":31,"c":7,"v":9},{"r":31,"c":8,"v":68},{"r":31,"c":9,"v":7},{"r":31,"c":10,"v":9},{"r":31,"c":11,"v":9},{"r":31,"c":12,"v":9},{"r":31,"c":13,"v":9},{"r":31,"c":14,"v":9},{"r":31,"c":15,"v":9},{"r":31,"c":16,"v":147},{"r":31,"c":17,"v":132},{"r":31,"c":18,"v":154},{"r":31,"c":19,"v":160},{"r":31,"c":20,"v":128},{"r":31,"c":21,"v":120},{"r":31,"c":22,"v":129},{"r":31,"c":23,"v":106},{"r":31,"c":24,"v":55},{"r":31,"c":25,"v":48},{"r":31,"c":26,"v":2},{"r":31,"c":27,"v":2},{"r":31,"c":28,"v":6},{"r":31,"c":29,"v":2},{"r":31,"c":30,"v":1},{"r":31,"c":31,"v":0},{"r":31,"c":32,"v":83},{"r":31,"c":33,"v":67},{"r":31,"c":34,"v":20},{"r":31,"c":35,"v":21},{"r":31,"c":36,"v":21},{"r":31,"c":37,"v":86},{"r":31,"c":38,"v":82},{"r":31,"c":39,"v":75},
{"r":32,"c":0,"v":81},{"r":32,"c":1,"v":83},{"r":32,"c":2,"v":83},{"r":32,"c":3,"v":84},{"r":32,"c":4,"v":86},{"r":32,"c":5,"v":87},{"r":32,"c":6,"v":81},{"r":32,"c":7,"v":84},{"r":32,"c":8,"v":33},{"r":32,"c":9,"v":83},{"r":32,"c":10,"v":83},{"r":32,"c":11,"v":83},{"r":32,"c":12,"v":83},{"r":32,"c":13,"v":83},{"r":32,"c":14,"v":83},{"r":32,"c":15,"v":83},{"r":32,"c":16,"v":76},{"r":32,"c":17,"v":60},{"r":32,"c":18,"v":81},{"r":32,"c":19,"v":88},{"r":32,"c":20,"v":60},{"r":32,"c":21,"v":53},{"r":32,"c":22,"v":60},{"r":32,"c":23,"v":45},{"r":32,"c":24,"v":38},{"r":32,"c":25,"v":46},{"r":32,"c":26,"v":83},{"r":32,"c":27,"v":83},{"r":32,"c":28,"v":81},{"r":32,"c":29,"v":83},{"r":32,"c":30,"v":83},{"r":32,"c":31,"v":83},{"r":32,"c":32,"v":0},{"r":32,"c":33,"v":29},{"r":32,"c":34,"v":80},{"r":32,"c":35,"v":80},{"r":32,"c":36,"v":80},{"r":32,"c":37,"v":29},{"r":32,"c":38,"v":29},{"r":32,"c":39,"v":25},
{"r":33,"c":0,"v":67},{"r":33,"c":1,"v":67},{"r":33,"c":2,"v":67},{"r":33,"c":3,"v":68},{"r":33,"c":4,"v":70},{"r":33,"c":5,"v":70},{"r":33,"c":6,"v":67},{"r":33,"c":7,"v":68},{"r":33,"c":8,"v":15},{"r":33,"c":9,"v":67},{"r":33,"c":10,"v":67},{"r":33,"c":11,"v":67},{"r":33,"c":12,"v":67},{"r":33,"c":13,"v":67},{"r":33,"c":14,"v":67},{"r":33,"c":15,"v":67},{"r":33,"c":16,"v":82},{"r":33,"c":17,"v":65},{"r":33,"c":18,"v":88},{"r":33,"c":19,"v":93},{"r":33,"c":20,"v":65},{"r":33,"c":21,"v":56},{"r":33,"c":22,"v":62},{"r":33,"c":23,"v":47},{"r":33,"c":24,"v":17},{"r":33,"c":25,"v":25},{"r":33,"c":26,"v":67},{"r":33,"c":27,"v":67},{"r":33,"c":28,"v":67},{"r":33,"c":29,"v":67},{"r":33,"c":30,"v":67},{"r":33,"c":31,"v":67},{"r":33,"c":32,"v":29},{"r":33,"c":33,"v":0},{"r":33,"c":34,"v":68},{"r":33,"c":35,"v":67},{"r":33,"c":36,"v":67},{"r":33,"c":37,"v":21},{"r":33,"c":38,"v":25},{"r":33,"c":39,"v":15},
{"r":34,"c":0,"v":20},{"r":34,"c":1,"v":22},{"r":34,"c":2,"v":22},{"r":34,"c":3,"v":23},{"r":34,"c":4,"v":29},{"r":34,"c":5,"v":27},{"r":34,"c":6,"v":20},{"r":34,"c":7,"v":21},{"r":34,"c":8,"v":74},{"r":34,"c":9,"v":21},{"r":34,"c":10,"v":21},{"r":34,"c":11,"v":21},{"r":34,"c":12,"v":21},{"r":34,"c":13,"v":21},{"r":34,"c":14,"v":21},{"r":34,"c":15,"v":21},{"r":34,"c":16,"v":147},{"r":34,"c":17,"v":132},{"r":34,"c":18,"v":154},{"r":34,"c":19,"v":160},{"r":34,"c":20,"v":129},{"r":34,"c":21,"v":120},{"r":34,"c":22,"v":129},{"r":34,"c":23,"v":107},{"r":34,"c":24,"v":57},{"r":34,"c":25,"v":50},{"r":34,"c":26,"v":20},{"r":34,"c":27,"v":21},{"r":34,"c":28,"v":20},{"r":34,"c":29,"v":21},{"r":34,"c":30,"v":21},{"r":34,"c":31,"v":21},{"r":34,"c":32,"v":80},{"r":34,"c":33,"v":68},{"r":34,"c":34,"v":0},{"r":34,"c":35,"v":2},{"r":34,"c":36,"v":2},{"r":34,"c":37,"v":86},{"r":34,"c":38,"v":78},{"r":34,"c":39,"v":71},
{"r":35,"c":0,"v":20},{"r":35,"c":1,"v":22},{"r":35,"c":2,"v":22},{"r":35,"c":3,"v":23},{"r":35,"c":4,"v":29},{"r":35,"c":5,"v":27},{"r":35,"c":6,"v":20},{"r":35,"c":7,"v":21},{"r":35,"c":8,"v":74},{"r":35,"c":9,"v":21},{"r":35,"c":10,"v":21},{"r":35,"c":11,"v":21},{"r":35,"c":12,"v":21},{"r":35,"c":13,"v":21},{"r":35,"c":14,"v":21},{"r":35,"c":15,"v":21},{"r":35,"c":16,"v":147},{"r":35,"c":17,"v":132},{"r":35,"c":18,"v":154},{"r":35,"c":19,"v":160},{"r":35,"c":20,"v":129},{"r":35,"c":21,"v":120},{"r":35,"c":22,"v":129},{"r":35,"c":23,"v":107},{"r":35,"c":24,"v":57},{"r":35,"c":25,"v":50},{"r":35,"c":26,"v":20},{"r":35,"c":27,"v":21},{"r":35,"c":28,"v":20},{"r":35,"c":29,"v":21},{"r":35,"c":30,"v":21},{"r":35,"c":31,"v":21},{"r":35,"c":32,"v":80},{"r":35,"c":33,"v":67},{"r":35,"c":34,"v":2},{"r":35,"c":35,"v":0},{"r":35,"c":36,"v":1},{"r":35,"c":37,"v":86},{"r":35,"c":38,"v":78},{"r":35,"c":39,"v":71},
{"r":36,"c":0,"v":20},{"r":36,"c":1,"v":22},{"r":36,"c":2,"v":22},{"r":36,"c":3,"v":23},{"r":36,"c":4,"v":29},{"r":36,"c":5,"v":27},{"r":36,"c":6,"v":20},{"r":36,"c":7,"v":21},{"r":36,"c":8,"v":74},{"r":36,"c":9,"v":21},{"r":36,"c":10,"v":21},{"r":36,"c":11,"v":21},{"r":36,"c":12,"v":21},{"r":36,"c":13,"v":21},{"r":36,"c":14,"v":21},{"r":36,"c":15,"v":21},{"r":36,"c":16,"v":147},{"r":36,"c":17,"v":132},{"r":36,"c":18,"v":154},{"r":36,"c":19,"v":160},{"r":36,"c":20,"v":129},{"r":36,"c":21,"v":120},{"r":36,"c":22,"v":129},{"r":36,"c":23,"v":107},{"r":36,"c":24,"v":57},{"r":36,"c":25,"v":50},{"r":36,"c":26,"v":20},{"r":36,"c":27,"v":21},{"r":36,"c":28,"v":20},{"r":36,"c":29,"v":21},{"r":36,"c":30,"v":21},{"r":36,"c":31,"v":21},{"r":36,"c":32,"v":80},{"r":36,"c":33,"v":67},{"r":36,"c":34,"v":2},{"r":36,"c":35,"v":1},{"r":36,"c":36,"v":0},{"r":36,"c":37,"v":86},{"r":36,"c":38,"v":78},{"r":36,"c":39,"v":71},
{"r":37,"c":0,"v":86},{"r":37,"c":1,"v":86},{"r":37,"c":2,"v":86},{"r":37,"c":3,"v":86},{"r":37,"c":4,"v":88},{"r":37,"c":5,"v":88},{"r":37,"c":6,"v":86},{"r":37,"c":7,"v":87},{"r":37,"c":8,"v":20},{"r":37,"c":9,"v":87},{"r":37,"c":10,"v":87},{"r":37,"c":11,"v":87},{"r":37,"c":12,"v":87},{"r":37,"c":13,"v":87},{"r":37,"c":14,"v":87},{"r":37,"c":15,"v":87},{"r":37,"c":16,"v":62},{"r":37,"c":17,"v":48},{"r":37,"c":18,"v":68},{"r":37,"c":19,"v":76},{"r":37,"c":20,"v":48},{"r":37,"c":21,"v":37},{"r":37,"c":22,"v":47},{"r":37,"c":23,"v":30},{"r":37,"c":24,"v":38},{"r":37,"c":25,"v":46},{"r":37,"c":26,"v":86},{"r":37,"c":27,"v":86},{"r":37,"c":28,"v":86},{"r":37,"c":29,"v":86},{"r":37,"c":30,"v":86},{"r":37,"c":31,"v":86},{"r":37,"c":32,"v":29},{"r":37,"c":33,"v":21},{"r":37,"c":34,"v":86},{"r":37,"c":35,"v":86},{"r":37,"c":36,"v":86},{"r":37,"c":37,"v":0},{"r":37,"c":38,"v":15},{"r":37,"c":39,"v":18},
{"r":38,"c":0,"v":82},{"r":38,"c":1,"v":82},{"r":38,"c":2,"v":82},{"r":38,"c":3,"v":82},{"r":38,"c":4,"v":84},{"r":38,"c":5,"v":84},{"r":38,"c":6,"v":81},{"r":38,"c":7,"v":82},{"r":38,"c":8,"v":25},{"r":38,"c":9,"v":82},{"r":38,"c":10,"v":82},{"r":38,"c":11,"v":82},{"r":38,"c":12,"v":82},{"r":38,"c":13,"v":82},{"r":38,"c":14,"v":82},{"r":38,"c":15,"v":82},{"r":38,"c":16,"v":71},{"r":38,"c":17,"v":57},{"r":38,"c":18,"v":78},{"r":38,"c":19,"v":84},{"r":38,"c":20,"v":56},{"r":38,"c":21,"v":48},{"r":38,"c":22,"v":55},{"r":38,"c":23,"v":40},{"r":38,"c":24,"v":36},{"r":38,"c":25,"v":44},{"r":38,"c":26,"v":82},{"r":38,"c":27,"v":82},{"r":38,"c":28,"v":82},{"r":38,"c":29,"v":82},{"r":38,"c":30,"v":82},{"r":38,"c":31,"v":82},{"r":38,"c":32,"v":29},{"r":38,"c":33,"v":25},{"r":38,"c":34,"v":78},{"r":38,"c":35,"v":78},{"r":38,"c":36,"v":78},{"r":38,"c":37,"v":15},{"r":38,"c":38,"v":0},{"r":38,"c":39,"v":13},
{"r":39,"c":0,"v":74},{"r":39,"c":1,"v":75},{"r":39,"c":2,"v":76},{"r":39,"c":3,"v":77},{"r":39,"c":4,"v":78},{"r":39,"c":5,"v":78},{"r":39,"c":6,"v":73},{"r":39,"c":7,"v":76},{"r":39,"c":8,"v":20},{"r":39,"c":9,"v":75},{"r":39,"c":10,"v":75},{"r":39,"c":11,"v":75},{"r":39,"c":12,"v":75},{"r":39,"c":13,"v":75},{"r":39,"c":14,"v":75},{"r":39,"c":15,"v":75},{"r":39,"c":16,"v":79},{"r":39,"c":17,"v":62},{"r":39,"c":18,"v":85},{"r":39,"c":19,"v":91},{"r":39,"c":20,"v":61},{"r":39,"c":21,"v":53},{"r":39,"c":22,"v":61},{"r":39,"c":23,"v":45},{"r":39,"c":24,"v":25},{"r":39,"c":25,"v":33},{"r":39,"c":26,"v":75},{"r":39,"c":27,"v":75},{"r":39,"c":28,"v":74},{"r":39,"c":29,"v":75},{"r":39,"c":30,"v":75},{"r":39,"c":31,"v":75},{"r":39,"c":32,"v":25},{"r":39,"c":33,"v":15},{"r":39,"c":34,"v":71},{"r":39,"c":35,"v":71},{"r":39,"c":36,"v":71},{"r":39,"c":37,"v":18},{"r":39,"c":38,"v":13},{"r":39,"c":39,"v":0}
]},
"mark": {"type": "rect", "stroke": "white", "strokeWidth": 1.2},
"encoding": {
  "x": {"field": "c", "type": "ordinal", "scale": {"paddingInner": 0, "paddingOuter": 0},
        "axis": {"title": null, "labelAngle": 0, "domain": false, "tickColor": "#333333", "tickSize": 4, "labelColor": "#262626", "labelFontSize": 11, "labelFont": "DejaVu Sans", "labelPadding": 3}},
  "y": {"field": "r", "type": "ordinal", "scale": {"paddingInner": 0, "paddingOuter": 0},
        "axis": {"title": null, "labelAngle": -90, "domain": false, "tickColor": "#333333", "tickSize": 4, "labelColor": "#262626", "labelFontSize": 11, "labelFont": "DejaVu Sans", "labelPadding": 3}},
  "color": {"field": "v", "type": "quantitative",
    "scale": {"type": "linear", "interpolate": "rgb",
      "domain": [0,3,6,9,12,16,20,25,29,33,37,44,48,53,57,62,67,71,75,79,82,86,90,97,105,110,117,120,128,132,140,147,150,154,160],
      "range": ["#d2e4ef","#cde3eb","#c8e3e5","#c3e3dc","#bfe2d3","#bcdfc8","#bcdabb","#c1d3ab","#c6caa2","#cbc3a0","#d2bb9d","#d9ada2","#d9a6a8","#d69bb6","#c897c5","#b596cc","#a19acf","#8e9cca","#819ec5","#72a1b5","#68a2a9","#61a592","#5fa07d","#6b9053","#7b8348","#857a48","#8f654d","#905c52","#884a6a","#7e4673","#644579","#414774","#394870","#274a5d","#1b4641"]},
    "legend": {"title": null, "orient": "right", "direction": "vertical", "offset": 55, "gradientLength": 872, "gradientThickness": 42, "gradientStrokeWidth": 0, "values": [0,30,60,90,120,150], "labelFontSize": 11, "labelFont": "DejaVu Sans", "labelColor": "#262626", "labelOffset": 8}
  }
}
}
